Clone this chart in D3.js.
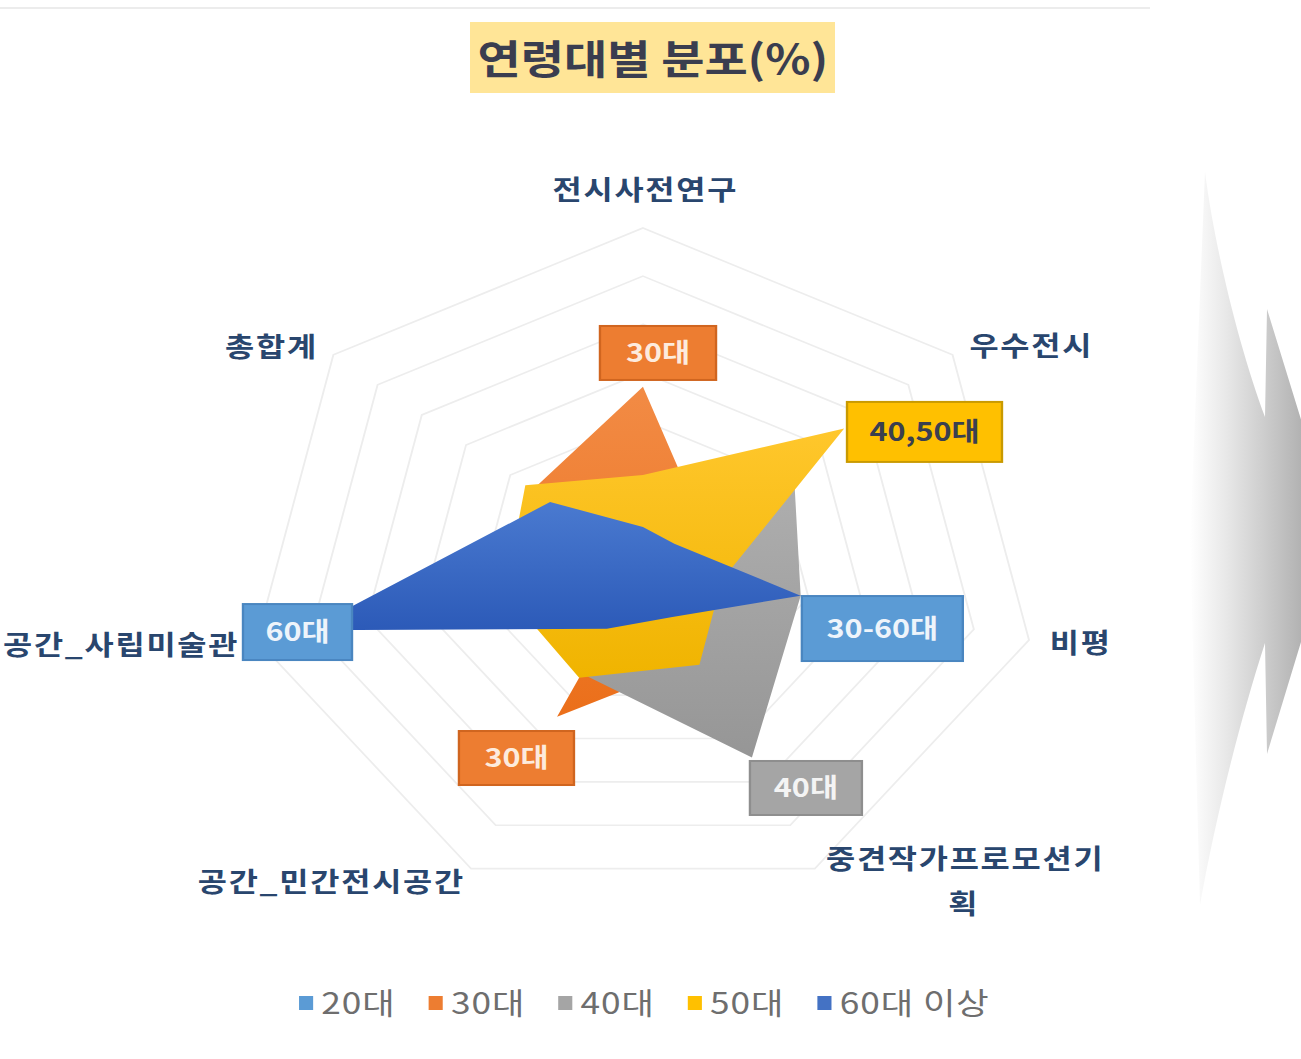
<!DOCTYPE html>
<html><head><meta charset="utf-8">
<script src="https://cdn.jsdelivr.net/npm/d3@7"></script>
<style>
html,body{margin:0;padding:0;background:#fff;}
svg{display:block;}
text{font-family:"Noto Sans CJK KR","Noto Sans",sans-serif;}
</style></head><body>
<svg id="chart" width="1301" height="1059"></svg>
<script>
// ---------------- data ----------------
const categories = ['전시사전연구','우수전시','비평','중견작가프로모션기획','공간_민간전시공간','공간_사립미술관','총합계'];
const seriesNames = ['20대','30대','40대','50대','60대 이상'];
const values20 = [14, 0, 0, 0, 0, 2, 3];
const values30 = [37, 13.5, 28.6, 22.2, 35, 0, 25];
const values40 = [18, 34, 28.6, 44.4, 25, 12, 24];
const values50 = [18.7, 45.5, 14.3, 23, 26, 25, 26.6];
const values60 = [7.9, 7.1, 28.6, 12, 14.7, 61, 21];
const gridTicks = [10, 20, 30, 40, 50, 60, 70];
const callouts = [
  {text:'30대', series:1, cat:0},
  {text:'40,50대', series:3, cat:1},
  {text:'30-60대', series:4, cat:2},
  {text:'60대', series:4, cat:5},
  {text:'30대', series:1, cat:4},
  {text:'40대', series:2, cat:3}
];
const titleText = '연령대별 분포(%)';

// ---------------- layout / style ----------------
const SX = 1.175;                 // horizontal stretch of the picture
const W = 1301, H = 1059;
const VW = W / SX;
const cx = 547.2, cy = 565, R = 337;
const colors = ['#5B9BD5','#ED7D31','#A5A5A5','#FFC000','#4472C4'];
const gradStops = [['#6CA6DA','#4F8FCB'],['#F28B45','#EB6F1A'],['#B0B0B0','#969696'],['#FFC72C','#F0B400'],['#4A7AD0','#2C5AB8']];
const labelOffsets = [[2,-28],[67,1],[44,13],[128,0],[-119,23],[-115.6,15],[-52.7,2]];
const calloutStyle = [
  {dx:-36.6, dy:-60.9, w:98.8, h:54, fill:'#ED7D31', stroke:'#D0651F', color:'#FDEBDD'},
  {dx:2.4, dy:-26.5, w:131.9, h:60, fill:'#FFC000', stroke:'#C99A00', color:'#3A3F4F'},
  {dx:1, dy:0.4, w:137, h:65, fill:'#5B9BD5', stroke:'#4A86C0', color:'#EEF4FB'},
  {dx:-54.1, dy:-26.3, w:92.8, h:56, fill:'#5B9BD5', stroke:'#4A86C0', color:'#EEF4FB'},
  {dx:-83.5, dy:14.2, w:97.9, h:54, fill:'#ED7D31', stroke:'#D0651F', color:'#FDEBDD'},
  {dx:-1.7, dy:3.4, w:95.3, h:54, fill:'#A5A5A5', stroke:'#8E8E8E', color:'#F4F4F4'}
];

const allSeries = [values20, values30, values40, values50, values60];

const svg = d3.select('#chart')
  .attr('viewBox', `0 0 ${VW} ${H}`)
  .attr('preserveAspectRatio', 'none');
const defs = svg.append('defs');

// gradients for series
allSeries.forEach((s, i) => {
  const g = defs.append('linearGradient').attr('id', 'g' + i)
    .attr('x1', 0).attr('y1', 0).attr('x2', 0).attr('y2', 1);
  g.append('stop').attr('offset', '0%').attr('stop-color', gradStops[i][0]);
  g.append('stop').attr('offset', '100%').attr('stop-color', gradStops[i][1]);
});
const ag = defs.append('linearGradient').attr('id', 'arrowGrad')
  .attr('x1', 0).attr('y1', 0).attr('x2', 1).attr('y2', 0);
ag.append('stop').attr('offset', '0%').attr('stop-color', '#ffffff');
ag.append('stop').attr('offset', '25%').attr('stop-color', '#e8e8e8');
ag.append('stop').attr('offset', '100%').attr('stop-color', '#9a9a9a');

// faint frame line at the top
svg.append('line').attr('x1', 0).attr('x2', 1150 / SX).attr('y1', 8).attr('y2', 8)
  .attr('stroke', '#ececec').attr('stroke-width', 2);

// decorative arrow on the right
const ax = x => x / SX;
svg.append('path')
  .attr('d', `M${ax(1205)},172 C${ax(1215)},250 ${ax(1240)},350 ${ax(1265)},417 L${ax(1267)},309 L${ax(1335)},530 L${ax(1267)},754 L${ax(1265)},643 C${ax(1240)},720 ${ax(1215)},820 ${ax(1200)},905 L${ax(1190)},540 Z`)
  .attr('fill', 'url(#arrowGrad)');

// title
const title = svg.append('g');
title.append('rect').attr('x', 470 / SX).attr('y', 22).attr('width', 365 / SX).attr('height', 71)
  .attr('fill', '#FFE597');
title.append('text').attr('x', 653 / SX).attr('y', 74).attr('text-anchor', 'middle')
  .attr('font-size', 40).attr('font-weight', 700).attr('fill', '#3A3D4F').text(titleText);

// radar
const rScale = d3.scaleLinear().domain([0, d3.max(gridTicks)]).range([0, R]);
const angle = i => i * 2 * Math.PI / categories.length;
const radar = d3.lineRadial().angle((d, i) => angle(i)).radius(d => rScale(d)).curve(d3.curveLinearClosed);
const plot = svg.append('g').attr('transform', `translate(${cx},${cy})`);

plot.append('g').selectAll('path').data(gridTicks).join('path')
  .attr('d', t => radar(categories.map(() => t)))
  .attr('fill', 'none').attr('stroke', '#ededed').attr('stroke-width', 1.6);

plot.append('g').selectAll('path').data(allSeries).join('path')
  .attr('d', d => radar(d))
  .attr('fill', (d, i) => `url(#g${i})`);

const pt = (v, i) => [rScale(v) * Math.sin(angle(i)), -rScale(v) * Math.cos(angle(i))];

// category labels
const outer = d3.max(gridTicks);
plot.append('g').selectAll('text').data(categories).join('text')
  .attr('text-anchor', 'middle').attr('font-size', 27).attr('letter-spacing', 1.5)
  .attr('font-weight', 700).attr('fill', '#29466E')
  .each(function(c, i) {
    const [x, y] = pt(outer, i);
    const t = d3.select(this);
    const px = x + labelOffsets[i][0], py = y + labelOffsets[i][1];
    if (c === '중견작가프로모션기획') {
      t.append('tspan').attr('x', px).attr('y', py).text('중견작가프로모션기');
      t.append('tspan').attr('x', px - 1.2).attr('y', py + 45).text('획');
    } else {
      t.attr('x', px).attr('y', py).text(c);
    }
  });

// callouts
const cg = plot.append('g');
callouts.forEach((c, k) => {
  const st = calloutStyle[k];
  const [x, y] = pt(allSeries[c.series][c.cat], c.cat);
  const bx = x + st.dx, by = y + st.dy;
  cg.append('rect').attr('x', bx).attr('y', by).attr('width', st.w).attr('height', st.h)
    .attr('fill', st.fill).attr('stroke', st.stroke).attr('stroke-width', 2);
  cg.append('text').attr('x', bx + st.w / 2).attr('y', by + st.h / 2 + 9)
    .attr('text-anchor', 'middle').attr('font-size', 26).attr('font-weight', 700)
    .attr('fill', st.color).text(c.text);
});

// legend
const lg = svg.append('g');
let lx = 254.5;
seriesNames.forEach((n, i) => {
  lg.append('rect').attr('x', lx).attr('y', 996).attr('width', 12).attr('height', 14).attr('fill', colors[i]);
  const t = lg.append('text').attr('x', lx + 19).attr('y', 1014).attr('font-size', 30)
    .attr('letter-spacing', 0.8).attr('fill', '#6E6E6E').text(n);
  lx = lx + 19 + t.node().getComputedTextLength() + 28;
});
</script>
</body></html>
